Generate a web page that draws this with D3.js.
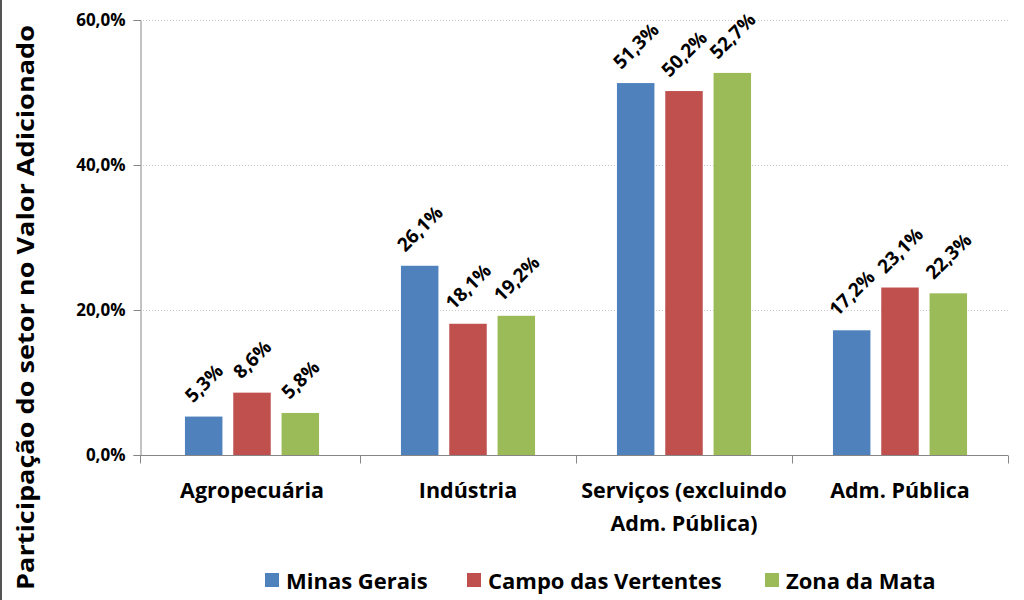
<!DOCTYPE html>
<html>
<head>
<meta charset="utf-8">
<script src="https://cdn.jsdelivr.net/npm/d3@7"></script>
<style>
  html, body { margin: 0; padding: 0; background: #fff; }
  svg { display: block; }
  text { font-family: "Open Sans", Lato, sans-serif; font-weight: bold; fill: #000; }
</style>
</head>
<body>
<svg id="chart" width="1024" height="600"></svg>
<script>
const categories = ["Agropecuária", "Indústria", "Serviços (excluindo\nAdm. Pública)", "Adm. Pública"];
const seriesNames = ["Minas Gerais", "Campo das Vertentes", "Zona da Mata"];
const seriesColors = ["#4F81BD", "#C0504D", "#9BBB59"];
const minasGerais = [5.3, 26.1, 51.3, 17.2];
const campoDasVertentes = [8.6, 18.1, 50.2, 23.1];
const zonaDaMata = [5.8, 19.2, 52.7, 22.3];
const yTicks = [0, 20, 40, 60];
const yTitle = "Participação do setor no Valor Adicionado";

const seriesValues = [minasGerais, campoDasVertentes, zonaDaMata];
const fmt = v => v.toFixed(1).replace(".", ",") + "%";
const FONT = '"Open Sans", Lato, sans-serif';

const svg = d3.select("#chart");
const m = { left: 140, right: 1008, top: 20, bottom: 455 };

// frame left border
svg.append("line").attr("x1", 1).attr("x2", 1).attr("y1", 0).attr("y2", 600)
  .attr("stroke", "#555").attr("stroke-width", 2);

const x = d3.scaleBand().domain(d3.range(categories.length)).range([m.left + 4, m.right]).paddingInner(0).paddingOuter(0);
const xs = d3.scaleBand().domain(d3.range(seriesNames.length)).range([0, x.bandwidth()]).paddingInner(0.224).paddingOuter(0.848);
const y = d3.scaleLinear().domain([0, 60]).range([m.bottom, m.top]);

// gridlines
svg.append("g").selectAll("line").data(yTicks.filter(t => t > 0)).join("line")
  .attr("x1", m.left).attr("x2", m.right)
  .attr("y1", d => Math.round(y(d)) + 0.5).attr("y2", d => Math.round(y(d)) + 0.5)
  .attr("stroke", "#c8c8c8").attr("stroke-width", 1).attr("stroke-dasharray", "1,2");

// y axis
const yAxis = svg.append("g").attr("transform", `translate(${m.left + 0.5},0)`)
  .call(d3.axisLeft(y).tickValues(yTicks).tickSize(7).tickPadding(8).tickFormat(fmt));
yAxis.select(".domain").attr("stroke", "#868686");
yAxis.selectAll(".tick line").attr("stroke", "#868686");
yAxis.selectAll(".tick text").style("font-size", "17px").style("font-family", FONT).style("font-weight", "bold");

// bars
const bars = svg.append("g");
seriesValues.forEach((vals, si) => {
  bars.selectAll(null).data(vals).join("rect")
    .attr("x", (d, i) => x(i) + xs(si))
    .attr("width", xs.bandwidth())
    .attr("y", d => y(d))
    .attr("height", d => y(0) - y(d))
    .attr("fill", seriesColors[si]);
});

// x axis
const xAxisG = svg.append("g").attr("transform", `translate(0,${m.bottom + 0.5})`);
xAxisG.append("line").attr("x1", m.left).attr("x2", m.right).attr("stroke", "#868686");
const bounds = d3.range(categories.length + 1).map(i => i === 0 ? m.left : x(0) + i * x.step());
xAxisG.selectAll(".bt").data(bounds).join("line").attr("class", "bt")
  .attr("x1", d => Math.round(d) + 0.5).attr("x2", d => Math.round(d) + 0.5)
  .attr("y1", 0).attr("y2", 8).attr("stroke", "#868686");
const catText = svg.append("g").selectAll("text").data(categories).join("text")
  .attr("text-anchor", "middle")
  .attr("transform", (d, i) => `translate(${x(i) + x.bandwidth() / 2},${m.bottom + 43})`)
  .style("font-size", "21.5px");
catText.each(function(d) {
  const lines = d.split("\n");
  d3.select(this).selectAll("tspan").data(lines).join("tspan")
    .attr("x", 0).attr("dy", (l, j) => j === 0 ? 0 : 33).text(l => l);
});

// data labels
const labels = svg.append("g");
seriesValues.forEach((vals, si) => {
  labels.selectAll(null).data(vals).join("text")
    .attr("text-anchor", "middle")
    .attr("dominant-baseline", "central")
    .style("font-size", "19px")
    .text(d => fmt(d))
    .attr("transform", function(d, i) {
      const w = this.getComputedTextLength();
      const h = 14;
      const bb = (w + h) / Math.SQRT2;
      const cx = x(i) + xs(si) + xs.bandwidth() / 2;
      const cy = y(d) - 13 - bb / 2;
      return `translate(${cx},${cy}) rotate(-45)`;
    });
});

// y title
svg.append("text").attr("text-anchor", "middle")
  .attr("transform", `translate(34,${(25 + 590) / 2}) rotate(-90)`)
  .style("font-size", "22.5px")
  .attr("textLength", 565).attr("lengthAdjust", "spacingAndGlyphs")
  .text(yTitle);

// legend
const legendX = [265, 467, 765];
const lg = svg.append("g");
seriesNames.forEach((n, i) => {
  lg.append("rect").attr("x", legendX[i]).attr("y", 573).attr("width", 14).attr("height", 14).attr("fill", seriesColors[i]);
  lg.append("text").attr("x", legendX[i] + 21).attr("y", 580).attr("dominant-baseline", "central")
    .style("font-size", "22px").text(n);
});
</script>
</body>
</html>
